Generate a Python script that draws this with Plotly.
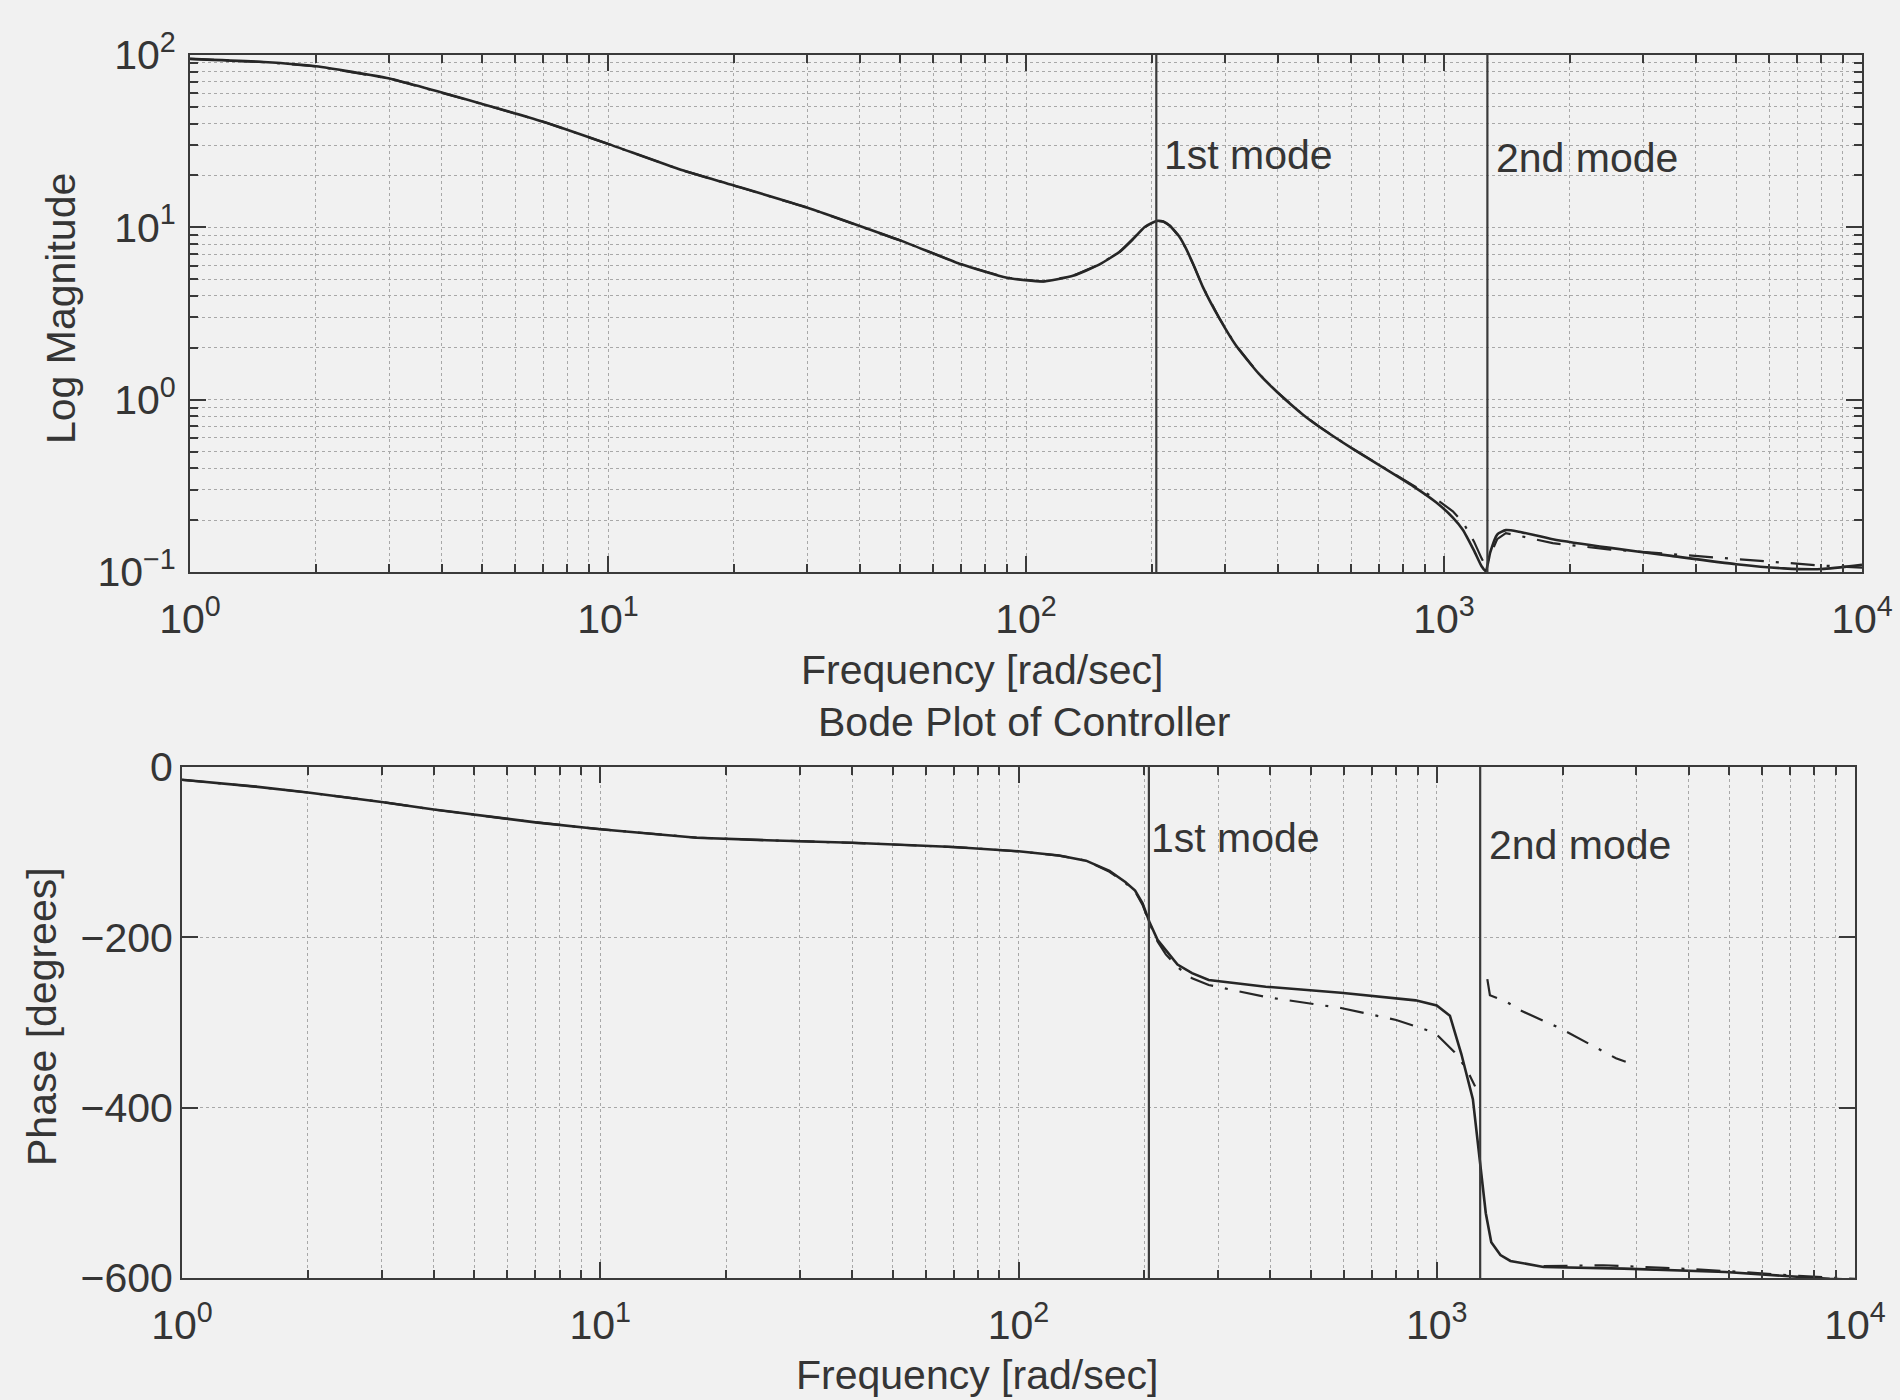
import math
import plotly.graph_objects as go

# ---------------- data ----------------
freq_mag = [1, 1.5, 2, 3, 5, 7, 10, 15, 20, 30, 50, 70, 90, 110, 130, 150, 168, 180,
            192, 200, 206, 213, 221, 233, 241, 252, 265, 290, 318, 360, 400, 460, 505,
            600, 727, 850, 957, 1050, 1109, 1180, 1230, 1259, 1290, 1340, 1406, 1500,
            1820, 2500, 3500, 5000, 6500, 8000, 10000]
mag_solid = [95, 91, 86, 73, 52, 41, 30.5, 21.5, 17.5, 13.0, 8.4, 6.1, 5.1, 4.85, 5.25,
             6.1, 7.25, 8.5, 10.0, 10.6, 10.9, 10.8, 10.2, 8.8, 7.6, 6.0, 4.5, 2.97, 2.06,
             1.42, 1.10, 0.818, 0.692, 0.525, 0.394, 0.311, 0.254, 0.207, 0.176, 0.133,
             0.108, 0.101, 0.13, 0.165, 0.175, 0.172, 0.155, 0.138, 0.124, 0.111,
             0.105, 0.104, 0.11]

freq_mag_dash = [1, 1.5, 2, 3, 5, 7, 10, 15, 20, 30, 50, 70, 90, 110, 130, 150, 168, 180,
                 192, 200, 206, 213, 221, 233, 241, 252, 265, 290, 318, 360, 400, 460,
                 505, 600, 727, 850, 957, 1050, 1109, 1180, 1230, 1259, 1290, 1340, 1406,
                 1500, 1820, 2500, 3500, 5000, 6500, 8000, 10000]
mag_dash = [95, 91, 86, 73, 52, 41, 30.5, 21.5, 17.5, 13.0, 8.4, 6.1, 5.1, 4.85, 5.25,
            6.1, 7.25, 8.5, 10.0, 10.6, 10.9, 10.8, 10.2, 8.8, 7.6, 6.0, 4.5, 2.97, 2.06,
            1.42, 1.10, 0.818, 0.692, 0.525, 0.394, 0.315, 0.265, 0.225, 0.195, 0.15,
            0.12, 0.108, 0.125, 0.155, 0.168, 0.163, 0.147, 0.135, 0.127, 0.119,
            0.113, 0.109, 0.106]

freq_phase = [1, 1.5, 2, 3, 4, 5, 7, 10, 17, 25, 40, 70, 100, 125, 145, 165, 180, 190,
              198, 206, 215, 225, 240, 260, 285, 390, 590, 890, 1000, 1075, 1145, 1220,
              1265, 1310, 1350, 1420, 1500, 1800, 2800, 4900, 8700, 10000]
phase_solid = [-15, -23, -30, -41, -50, -56, -65, -73, -83, -86, -89, -94, -99, -104,
               -110, -122, -135, -145, -160, -183, -203, -215, -232, -242, -250, -258,
               -265, -274, -280, -292, -337, -390, -457, -524, -558, -573, -580, -587,
               -589, -593, -601, -602]

freq_phase_dash_a = [1, 1.5, 2, 3, 4, 5, 7, 10, 17, 25, 40, 70, 100, 125, 145, 165, 180,
                     190, 198, 206, 215, 225, 240, 260, 285, 390, 590, 800, 990, 1103,
                     1180, 1235]
phase_dash_a = [-15, -23, -30, -41, -50, -56, -65, -73, -83, -86, -89, -94, -99, -104,
                -110, -123, -136, -146, -162, -184, -205, -220, -235, -248, -256, -270,
                -283, -297, -312, -335, -355, -375]

freq_phase_dash_b = [1321, 1340, 1472, 1588, 1976, 2682, 2830]
phase_dash_b = [-249, -268, -276, -286, -307, -342, -346]

freq_phase_dash_c = [1800, 2500, 3500, 5000, 7000, 10000]
phase_dash_c = [-586, -585, -588, -592, -597, -601]

mode_freqs = [205, 1270]
mode_labels = ["1st mode", "2nd mode"]

x_tick_vals = [1, 10, 100, 1000, 10000]
x_tick_text = ["10<sup>0</sup>", "10<sup>1</sup>", "10<sup>2</sup>", "10<sup>3</sup>", "10<sup>4</sup>"]
mag_tick_vals = [0.1, 1, 10, 100]
mag_tick_text = ["10<sup>\u22121</sup>", "10<sup>0</sup>", "10<sup>1</sup>", "10<sup>2</sup>"]
phase_tick_vals = [0, -200, -400, -600]
phase_tick_text = ["0", "\u2212200", "\u2212400", "\u2212600"]

title_text = "Bode Plot of Controller"
xlabel_text = "Frequency [rad/sec]"
ylabel_mag = "Log Magnitude"
ylabel_phase = "Phase [degrees]"

# ---------------- styling ----------------
FONT = "Liberation Sans, Arial, Helvetica, sans-serif"
FS = 41
TXT = "#353535"
LINE = "#262626"
FRAME = "#3a3a3a"
GRID = "#a8a8a8"
BG = "#f1f1f1"
DASH = "24px,12px,3px,12px"
W, H = 1900, 1400

minor_x = [k * 10 ** d for d in range(0, 4) for k in range(2, 10)]
minor_mag = [k * 10 ** d for d in range(-1, 2) for k in range(2, 10)]

fig = go.Figure()

def add_line(x, y, xa, ya, dash=None, width=2.6, shape="linear"):
    fig.add_trace(go.Scatter(x=x, y=y, mode="lines", xaxis=xa, yaxis=ya,
                             line=dict(color=LINE, width=width, dash=dash, shape=shape,
                                       smoothing=0.5 if shape == "spline" else None),
                             showlegend=False, hoverinfo="skip"))

add_line(freq_mag_dash, mag_dash, "x", "y", dash=DASH, width=2.2)
add_line(freq_mag, mag_solid, "x", "y", shape="spline")
add_line(freq_phase_dash_a, phase_dash_a, "x2", "y2", dash=DASH, width=2.2)
add_line(freq_phase_dash_b, phase_dash_b, "x2", "y2", dash=DASH, width=2.2)
add_line(freq_phase_dash_c, phase_dash_c, "x2", "y2", dash=DASH, width=2.2)
add_line(freq_phase, phase_solid, "x2", "y2")

common_axis = dict(
    automargin=False,
    showline=True, linecolor=FRAME, linewidth=2, mirror="allticks",
    ticks="inside", ticklen=16, tickwidth=2, tickcolor=FRAME,
    showgrid=True, gridcolor=GRID, gridwidth=1.2, griddash="dot",
    zeroline=False,
    tickfont=dict(family=FONT, size=FS, color=TXT),
)

minor_style = dict(ticks="inside", ticklen=8, tickwidth=1.5, tickcolor=FRAME,
                   showgrid=True, gridcolor=GRID, gridwidth=1.2, griddash="dot")

log_x = dict(common_axis, type="log", range=[0, 4], tickmode="array",
             tickvals=x_tick_vals, ticktext=x_tick_text,
             minor=dict(minor_style, tickmode="array", tickvals=minor_x))

fig.update_layout(
    template="none",
    width=W, height=H,
    margin=dict(l=0, r=0, t=0, b=0, pad=0, autoexpand=False),
    paper_bgcolor=BG, plot_bgcolor=BG,
    font=dict(family=FONT, size=FS, color=TXT),
    xaxis=dict(log_x, domain=[190 / W, 1862 / W], anchor="y", ticklabelstandoff=10),
    yaxis=dict(common_axis, type="log", range=[-1, 2], tickmode="array",
               tickvals=mag_tick_vals, ticktext=mag_tick_text, ticklabelstandoff=4,
               domain=[1 - 572 / H, 1 - 55 / H], anchor="x",
               minor=dict(minor_style, tickmode="array", tickvals=minor_mag)),
    xaxis2=dict(log_x, domain=[182 / W, 1855 / W], anchor="y2", ticklabelstandoff=10),
    yaxis2=dict(common_axis, range=[-600, 0], tickmode="array",
                tickvals=phase_tick_vals, ticktext=phase_tick_text, ticklabelstandoff=-1,
                domain=[1 - 1278 / H, 1 - 767 / H], anchor="x2"),
)

# mode lines and labels
label_pos_top = [0.807, 0.801]
label_pos_bot = [0.861, 0.847]
shift_top = [6, 7]
shift_bot = [0, 7]
for i, f in enumerate(mode_freqs):
    for xr, yr in (("x", "y domain"), ("x2", "y2 domain")):
        fig.add_shape(type="line", xref=xr, yref=yr, x0=f, x1=f, y0=0, y1=1,
                      line=dict(color=FRAME, width=2.2))
    fig.add_annotation(text=mode_labels[i], xref="x", yref="y domain",
                       x=math.log10(f), y=label_pos_top[i],
                       xanchor="left", yanchor="middle", xshift=shift_top[i],
                       showarrow=False, font=dict(family=FONT, size=FS, color=TXT))
    fig.add_annotation(text=mode_labels[i], xref="x2", yref="y2 domain",
                       x=math.log10(f), y=label_pos_bot[i],
                       xanchor="left", yanchor="middle", xshift=shift_bot[i],
                       showarrow=False, font=dict(family=FONT, size=FS, color=TXT))

# axis titles and plot title as positioned text
def ptext(text, x, y, angle=0):
    fig.add_annotation(text=text, xref="paper", yref="paper", x=x / W, y=1 - y / H,
                       xanchor="center", yanchor="middle", textangle=angle,
                       showarrow=False, font=dict(family=FONT, size=FS, color=TXT))

ptext(xlabel_text, 982, 670)
ptext(title_text, 1024, 722)
ptext(xlabel_text, 977, 1375)
ptext(ylabel_mag, 61, 309, -90)
ptext(ylabel_phase, 42, 1017, -90)

fig.write_html("out.html", config={"displayModeBar": False},
               post_script="document.body.style.margin='0';"
                           "document.body.style.background='%s';" % BG)
